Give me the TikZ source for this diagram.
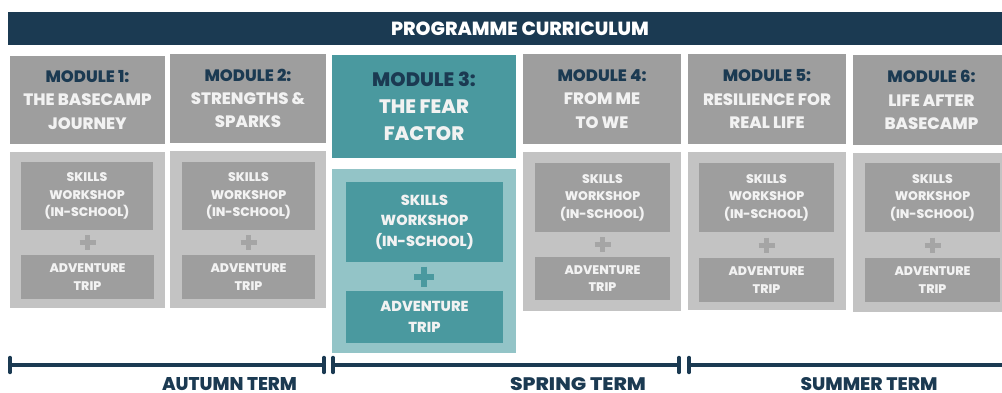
\documentclass[tikz,border=0pt]{standalone}
\usepackage{fontspec}
\setmainfont{Poppins}[BoldFont={Poppins ExtraBold}]
\definecolor{navy}{RGB}{27,58,82}
\definecolor{hdrgray}{RGB}{158,158,158}
\definecolor{contgray}{RGB}{195,195,195}
\definecolor{plusgray}{RGB}{165,165,165}
\definecolor{teal}{RGB}{74,153,159}
\definecolor{lteal}{RGB}{147,196,199}
\definecolor{offwhite}{RGB}{242,242,242}
\begin{document}
\begin{tikzpicture}[x=1pt,y=-1pt,
  blk/.style={inner sep=0pt,outer sep=0pt,draw=none,align=center},
  hdr/.style={blk,fill=hdrgray,text=offwhite,font=\bfseries\fontsize{16.5}{23.3}\selectfont},
  hdrT/.style={blk,fill=teal,text=offwhite,font=\bfseries\fontsize{19.5}{27}\selectfont},
  cont/.style={blk,fill=contgray},
  contT/.style={blk,fill=lteal},
  inner/.style={blk,fill=hdrgray,text=offwhite,font=\bfseries\fontsize{12.5}{17.5}\selectfont},
  innerT/.style={blk,fill=teal,text=offwhite,font=\bfseries\fontsize{14.5}{20.5}\selectfont},
  plusg/.style={draw=plusgray,line width=5pt},
  plust/.style={draw=teal,line width=6pt},
  tl/.style={draw=navy,line width=4.2pt},
  tick/.style={draw=navy,line width=3.4pt,line cap=round},
  term/.style={inner sep=0pt,outer sep=0pt,anchor=base,text=navy,font=\bfseries}
]
\useasboundingbox (0,0) rectangle (1002,392);
\clip (0,0) rectangle (1002,392);

% title
\node[blk,fill=navy,minimum width=994,minimum height=33] (title) at (505,28.5) {};
\node[blk,text=white,font=\bfseries\fontsize{19}{20}\selectfont] (titletext) at (520,28.5) {PROGRAMME CURRICULUM};

% module headers
\node[hdr,minimum width=155,minimum height=88] (h1) at (87.5,100) {\textcolor{navy}{MODULE 1:}\\THE BASECAMP\\JOURNEY};
\node[hdr,minimum width=156,minimum height=89] (h2) at (248,98.5) {\textcolor{navy}{MODULE 2:}\\STRENGTHS \&\\SPARKS};
\node[hdrT,minimum width=184,minimum height=103] (h3) at (424,106.5) {\textcolor{navy}{MODULE 3:}\\THE FEAR\\FACTOR};
\node[hdr,minimum width=158,minimum height=90] (h4) at (602,99) {\textcolor{navy}{MODULE 4:}\\FROM ME\\TO WE};
\node[hdr,minimum width=158,minimum height=90] (h5) at (767,99) {\textcolor{navy}{MODULE 5:}\\RESILIENCE FOR\\REAL LIFE};
\node[hdr,minimum width=157,minimum height=90] (h6) at (931.5,100) {\textcolor{navy}{MODULE 6:}\\LIFE AFTER\\BASECAMP};

% containers
\node[cont,minimum width=155,minimum height=156] (c1) at (87.5,230) {};
\node[cont,minimum width=156,minimum height=157] (c2) at (248,229.5) {};
\node[contT,minimum width=184,minimum height=184] (c3) at (424,261) {};
\node[cont,minimum width=158,minimum height=159] (c4) at (602,231.5) {};
\node[cont,minimum width=158,minimum height=158] (c5) at (767,231) {};
\node[cont,minimum width=157,minimum height=159] (c6) at (931.5,232.5) {};

% skills workshops
\node[inner,minimum width=132,minimum height=68] (s1) at (87,196) {SKILLS\\WORKSHOP\\(IN-SCHOOL)};
\node[inner,minimum width=133,minimum height=68] (s2) at (248.5,196) {SKILLS\\WORKSHOP\\(IN-SCHOOL)};
\node[innerT,minimum width=157,minimum height=80] (s3) at (424.5,222) {SKILLS\\WORKSHOP\\(IN-SCHOOL)};
\node[inner,minimum width=135,minimum height=69] (s4) at (602.5,197.5) {SKILLS\\WORKSHOP\\(IN-SCHOOL)};
\node[inner,minimum width=135,minimum height=69] (s5) at (766.5,197.5) {SKILLS\\WORKSHOP\\(IN-SCHOOL)};
\node[inner,minimum width=135,minimum height=69] (s6) at (932.5,197.5) {SKILLS\\WORKSHOP\\(IN-SCHOOL)};

% adventure trips
\node[inner,minimum width=133,minimum height=44] (a1) at (87.5,277) {ADVENTURE\\TRIP};
\node[inner,minimum width=133,minimum height=44] (a2) at (248.5,277) {ADVENTURE\\TRIP};
\node[innerT,minimum width=157,minimum height=52] (a3) at (424.5,317) {ADVENTURE\\TRIP};
\node[inner,minimum width=135,minimum height=43] (a4) at (602.5,278.5) {ADVENTURE\\TRIP};
\node[inner,minimum width=135,minimum height=44] (a5) at (766.5,280) {ADVENTURE\\TRIP};
\node[inner,minimum width=135,minimum height=44] (a6) at (932.5,280) {ADVENTURE\\TRIP};

% plus signs
\foreach \px/\py in {87.5/242.5, 248.5/242.5, 602.5/244.5, 766.5/245, 932.5/245}{
  \draw[plusg] (\px-8,\py) -- (\px+8,\py) (\px,\py-7.5) -- (\px,\py+7.5);
}
\draw[plust] (414,276.5) -- (434,276.5) (424,266.5) -- (424,286.5);

% timeline
\coordinate (t0) at (10,365);
\coordinate (t1) at (324,365);
\coordinate (t2) at (333,365);
\coordinate (t3) at (679,365);
\coordinate (t4) at (689,365);
\coordinate (t5) at (1010,365);
\draw[tl] (t0) -- (t1);
\draw[tl] (t2) -- (t3);
\draw[tl] (t4) -- (t5);
\foreach \t in {t0,t1,t2,t3,t4}{
  \draw[tick] ([yshift=7.5pt]\t) -- ([yshift=-7.5pt]\t);
}

% term labels
\node[term] (autumn) at (229.5,390) {\resizebox{135pt}{13pt}{AUTUMN TERM}};
\node[term] (spring) at (578,390) {\resizebox{136pt}{13pt}{SPRING TERM}};
\node[term] (summer) at (869,390) {\resizebox{137pt}{13pt}{SUMMER TERM}};
\end{tikzpicture}
\end{document}
